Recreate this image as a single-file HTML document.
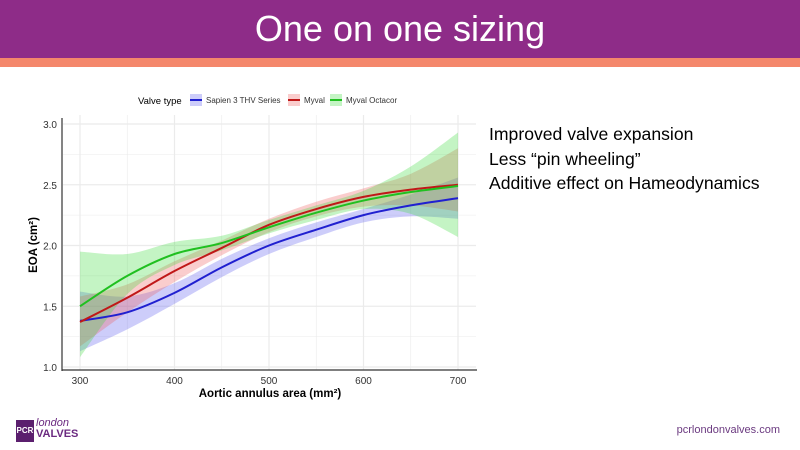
<!DOCTYPE html>
<html><head><meta charset="utf-8"><style>
body{margin:0;width:800px;height:450px;overflow:hidden;background:#fff;font-family:"Liberation Sans",sans-serif;position:relative}
.hdr{position:absolute;left:0;top:0;width:800px;height:58px;background:#8e2c88;color:#fff;font-size:36px;text-align:center;line-height:58px}
.bar{position:absolute;left:0;top:58px;width:800px;height:9px;background:#f4876b}
.txt{position:absolute;left:489px;top:122px;font-size:17.6px;line-height:24.5px;color:#000;white-space:nowrap}
.logo{position:absolute;left:16px;top:420px;width:18px;height:22px;background:#5b1f6e;color:#fff;font-size:8px;font-weight:bold;line-height:22px;text-align:center}
.lt{position:absolute;left:36px;top:418px;color:#6b2a80;font-size:11px;line-height:11px}
.url{position:absolute;right:20px;top:424px;font-size:11px;color:#6b3a80}
</style></head><body>
<div class="hdr">One on one sizing</div>
<div class="bar"></div>
<div class="txt">Improved valve expansion<br>Less “pin wheeling”<br>Additive effect on Hameodynamics</div>
<div class="logo">PCR</div>
<div class="lt"><i>london</i><br><b>VALVES</b></div>
<div class="url">pcrlondonvalves.com</div>
<svg id="c" width="800" height="450" style="position:absolute;left:0;top:0"></svg>
<script>
const xs=[300,350,400,450,500,550,600,650,700];
const blue=[1.38,1.45,1.61,1.82,2.0,2.13,2.25,2.33,2.39];
const blueLo=[1.13,1.31,1.52,1.74,1.93,2.07,2.19,2.24,2.22];
const blueHi=[1.62,1.58,1.69,1.89,2.06,2.19,2.30,2.42,2.56];
const red=[1.37,1.57,1.79,1.98,2.17,2.30,2.40,2.46,2.50];
const redLo=[1.17,1.45,1.70,1.92,2.11,2.24,2.32,2.33,2.28];
const redHi=[1.58,1.68,1.87,2.04,2.22,2.36,2.47,2.59,2.80];
const green=[1.50,1.75,1.93,2.02,2.15,2.27,2.37,2.44,2.49];
const greenLo=[1.08,1.60,1.84,1.96,2.10,2.21,2.30,2.26,2.07];
const greenHi=[1.95,1.93,2.03,2.08,2.21,2.33,2.45,2.65,2.93];
const yTicks=[1.0,1.5,2.0,2.5,3.0];
const xTicks=[300,400,500,600,700];
const sx=v=>80+(v-300)*0.945;
const sy=v=>367-(v-1)*121.5;
const svg=document.getElementById('c');const NS='http://www.w3.org/2000/svg';
function mk(t,a,p){const e=document.createElementNS(NS,t);for(const k in a)e.setAttribute(k,a[k]);(p||svg).appendChild(e);return e;}
function smooth(pts){let d='M'+pts[0][0]+','+pts[0][1];for(let i=0;i<pts.length-1;i++){const p0=pts[Math.max(i-1,0)],p1=pts[i],p2=pts[i+1],p3=pts[Math.min(i+2,pts.length-1)];d+=' C'+(p1[0]+(p2[0]-p0[0])/6)+','+(p1[1]+(p2[1]-p0[1])/6)+' '+(p2[0]-(p3[0]-p1[0])/6)+','+(p2[1]-(p3[1]-p1[1])/6)+' '+p2[0]+','+p2[1];}return d;}
for(let v=1;v<=3.001;v+=0.25){const g=mk('line',{x1:63,x2:476,y1:sy(v),y2:sy(v),stroke:'#ebebeb','stroke-width':Math.abs(v*2-Math.round(v*2))<0.01?1.2:0.6});
}
for(let v=300;v<=700;v+=50){const g=mk('line',{x1:sx(v),x2:sx(v),y1:115,y2:370,stroke:'#ebebeb','stroke-width':v%100?0.6:1.2});
}
const series=[['sapien',blue,blueLo,blueHi,'#2020d0','rgba(100,100,240,0.32)'],['myval',red,redLo,redHi,'#c01818','rgba(240,90,90,0.3)'],['octacor',green,greenLo,greenHi,'#20c020','rgba(60,220,60,0.3)']];
series.forEach(s=>{const hi=xs.map((x,i)=>[sx(x),sy(s[3][i])]);const lo=xs.map((x,i)=>[sx(x),sy(s[2][i])]).reverse();
const b=mk('path',{d:smooth(hi)+' L'+smooth(lo).slice(1)+' Z',fill:s[5]});
});
series.forEach(s=>{const l=mk('path',{d:smooth(xs.map((x,i)=>[sx(x),sy(s[1][i])])),fill:'none',stroke:s[4],'stroke-width':2});
});
mk('line',{x1:62,x2:62,y1:118,y2:371,stroke:'#333','stroke-width':1.2});
mk('line',{x1:62,x2:477,y1:370,y2:370,stroke:'#333','stroke-width':1.2});
yTicks.forEach(v=>{const t=mk('text',{x:57,y:sy(v)+4,'text-anchor':'end','font-size':10,fill:'#333'});t.textContent=v.toFixed(1);
});
xTicks.forEach(v=>{const t=mk('text',{x:sx(v),y:384,'text-anchor':'middle','font-size':10,fill:'#333'});t.textContent=v;
});
let t=mk('text',{x:270,y:397,'text-anchor':'middle','font-size':11.5,'font-weight':'bold'});t.textContent='Aortic annulus area (mm²)';

t=mk('text',{x:0,y:0,'text-anchor':'middle','font-size':11.5,'font-weight':'bold',transform:'translate(37,245) rotate(-90)'});t.textContent='EOA (cm²)';

t=mk('text',{x:138,y:104,'font-size':9.5});t.textContent='Valve type';

const leg=[[190,'Sapien 3 THV Series',0],[288,'Myval',1],[330,'Myval Octacor',2]];
leg.forEach(l=>{const s=series[l[2]];const g=mk('g',{});
mk('rect',{x:l[0],y:94,width:12,height:12,fill:s[5]},g);mk('line',{x1:l[0],x2:l[0]+12,y1:100,y2:100,stroke:s[4],'stroke-width':2},g);
const tt=mk('text',{x:l[0]+16,y:103,'font-size':8,fill:'#333'},g);tt.textContent=l[1];});
</script>
</body></html>
